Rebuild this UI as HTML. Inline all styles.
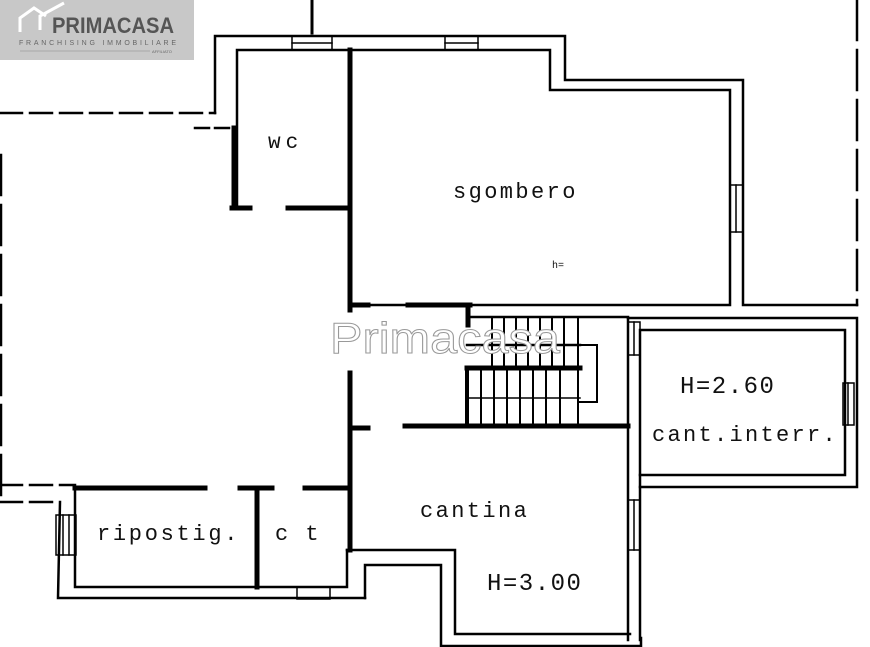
<!DOCTYPE html>
<html><head><meta charset="utf-8"><style>
body{margin:0;background:#fff;width:870px;height:647px;overflow:hidden}
svg{display:block}
.m{font-family:"Liberation Mono",monospace;fill:#111}
.s{font-family:"Liberation Sans",sans-serif}
</style></head><body>
<svg width="870" height="647" viewBox="0 0 870 647" xmlns="http://www.w3.org/2000/svg">
<g stroke="#000" fill="none" stroke-width="2.5" stroke-linecap="square">
<line x1="312" y1="0" x2="312" y2="33" stroke-width="3"/>
<polyline points="215,113 215,36 565,36 565,80 743,80 743,305 857,305"/>
<polyline points="237,205 237,50 550,50 550,90 730,90 730,305 355,305"/>
<line x1="350" y1="50" x2="350" y2="310" stroke-width="5"/>
<line x1="288" y1="208" x2="350" y2="208" stroke-width="5"/>
<line x1="232" y1="208" x2="250" y2="208" stroke-width="5"/>
<line x1="234" y1="128" x2="234" y2="208" stroke-width="5"/>
<line x1="350" y1="305" x2="368" y2="305" stroke-width="5"/>
<line x1="408" y1="305" x2="470" y2="305" stroke-width="5"/>
<line x1="468" y1="305" x2="468" y2="325" stroke-width="5"/>
<line x1="0" y1="113" x2="215" y2="113" stroke-dasharray="22,8"/>
<line x1="195" y1="128" x2="234" y2="128" stroke-dasharray="14,6"/>
<line x1="857" y1="0" x2="857" y2="305" stroke-dasharray="40,10"/>
<line x1="1" y1="155" x2="1" y2="500" stroke-dasharray="40,10"/>
<line x1="0" y1="485" x2="75" y2="485" stroke-dasharray="22,8"/>
<line x1="0" y1="502" x2="60" y2="502" stroke-dasharray="22,8"/>
<g stroke-width="1.5"><rect x="292" y="36" width="40" height="14"/><line x1="292" y1="43" x2="332" y2="43"/><rect x="445" y="36" width="33" height="14"/><line x1="445" y1="43" x2="478" y2="43"/>
<rect x="730" y="185" width="13" height="47"/><line x1="736" y1="185" x2="736" y2="232"/></g>
<polyline points="628,318 857,318 857,487 640,487"/>
<polyline points="640,330 845,330 845,475 640,475 640,330"/>
<line x1="628" y1="318" x2="628" y2="640"/>
<line x1="640" y1="475" x2="640" y2="640"/>
<g stroke-width="1.5"><rect x="628" y="322" width="12" height="33"/><line x1="634" y1="322" x2="634" y2="355"/>
<rect x="843" y="383" width="11" height="42"/><line x1="848" y1="383" x2="848" y2="425"/>
<rect x="628" y="500" width="12" height="50"/><line x1="634" y1="500" x2="634" y2="550"/></g>
<line x1="470" y1="317" x2="628" y2="317"/>
<polyline points="347,550 455,550 455,634 630,634"/>
<polyline points="365,598 365,565 441,565 441,646 641,646 641,638"/>
<line x1="350" y1="373" x2="350" y2="550" stroke-width="5"/>
<line x1="350" y1="428" x2="368" y2="428" stroke-width="5"/>
<line x1="405" y1="426" x2="628" y2="426" stroke-width="5"/>
<line x1="467" y1="368" x2="580" y2="368" stroke-width="5"/>
<line x1="467" y1="368" x2="467" y2="426" stroke-width="4"/>
<polyline points="467,345 580,345"/>
<line x1="467" y1="398" x2="580" y2="398" stroke-width="1.5"/>
<g stroke-width="2"><line x1="492" y1="317" x2="492" y2="368"/><line x1="504" y1="317" x2="504" y2="368"/><line x1="516" y1="317" x2="516" y2="368"/><line x1="528" y1="317" x2="528" y2="368"/><line x1="540" y1="317" x2="540" y2="368"/><line x1="552" y1="317" x2="552" y2="368"/><line x1="564" y1="317" x2="564" y2="368"/><line x1="578" y1="317" x2="578" y2="426"/>
<line x1="481" y1="368" x2="481" y2="426"/><line x1="494" y1="368" x2="494" y2="426"/><line x1="507" y1="368" x2="507" y2="426"/><line x1="520" y1="368" x2="520" y2="426"/><line x1="533" y1="368" x2="533" y2="426"/><line x1="546" y1="368" x2="546" y2="426"/><line x1="560" y1="368" x2="560" y2="426"/>
<polyline points="578,345 597,345 597,402 578,402"/></g>
<line x1="75" y1="488" x2="205" y2="488" stroke-width="5"/>
<line x1="240" y1="488" x2="272" y2="488" stroke-width="5"/>
<line x1="305" y1="488" x2="347" y2="488" stroke-width="5"/>
<line x1="257" y1="488" x2="257" y2="587" stroke-width="5"/>
<polyline points="75,488 75,587 347,587 347,550"/>
<polyline points="60,502 58,598 365,598"/>
<g stroke-width="1.5"><rect x="56" y="515" width="20" height="40"/><line x1="63" y1="515" x2="63" y2="555"/><line x1="69" y1="515" x2="69" y2="555"/>
<rect x="297" y="587" width="33" height="12"/></g>
</g>
<text class="m" x="268" y="148" font-size="21" letter-spacing="5">wc</text>
<text class="m" x="453" y="198" font-size="22" letter-spacing="2.4">sgombero</text>
<text class="m" x="552" y="268" font-size="10">h=</text>
<text class="m" x="680" y="393" font-size="24" letter-spacing="1.5">H=2.60</text>
<text class="m" x="652" y="441" font-size="22" letter-spacing="2.3">cant.interr.</text>
<text class="m" x="420" y="517" font-size="22" letter-spacing="2.4">cantina</text>
<text class="m" x="487" y="590" font-size="24" letter-spacing="1.5">H=3.00</text>
<text class="m" x="97" y="540" font-size="22" letter-spacing="2.7">ripostig.</text>
<text class="m" x="275" y="540" font-size="22" letter-spacing="2">c t</text>
<text class="s" x="330" y="353" font-size="44" fill="#fff" stroke="#999" stroke-width="1" textLength="230" lengthAdjust="spacingAndGlyphs">Primacasa</text>
<rect x="0" y="0" width="194" height="60" fill="#c8c8c8"/>
<polyline points="20,32 20,18 34,8 46,16" fill="none" stroke="#fff" stroke-width="3"/>
<polyline points="40,30 40,16 64,3" fill="none" stroke="#fff" stroke-width="3"/>
<text class="s" x="52" y="33" font-size="22" font-weight="bold" fill="#555" textLength="122" lengthAdjust="spacingAndGlyphs">PRIMACASA</text>
<text class="s" x="19" y="45" font-size="7" fill="#666" textLength="157" lengthAdjust="spacing">FRANCHISING IMMOBILIARE</text>
<line x1="20" y1="51" x2="150" y2="51" stroke="#888" stroke-width="0.6"/>
<text class="s" x="152" y="53" font-size="4" fill="#666">AFFILIATO</text>
</svg>
</body></html>
